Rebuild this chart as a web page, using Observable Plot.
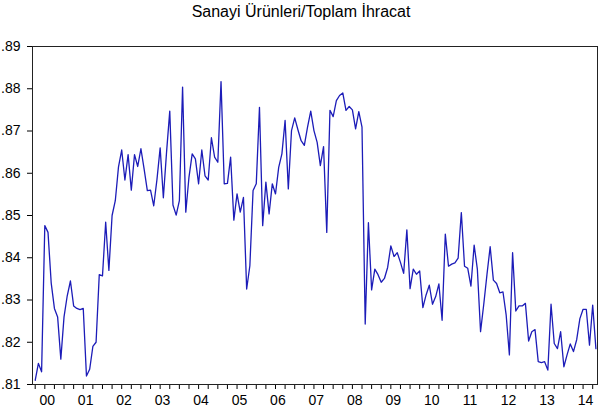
<!DOCTYPE html>
<html>
<head>
<meta charset="utf-8">
<script src="https://cdn.jsdelivr.net/npm/d3@7"></script>
<script src="https://cdn.jsdelivr.net/npm/@observablehq/plot@0.6"></script>
<style>
  html, body { margin: 0; padding: 0; background: #fff; }
</style>
</head>
<body>
<div id="chart"></div>
<script>
const title = "Sanayi Ürünleri/Toplam İhracat";
const startYear = 2000;
const yearLabels = ["00","01","02","03","04","05","06","07","08","09","10","11","12","13","14"];
const yTicks = [0.81, 0.82, 0.83, 0.84, 0.85, 0.86, 0.87, 0.88, 0.89];
// monthly values, Jan 2000 - Aug 2014
const values = [
  0.811, 0.815, 0.813, 0.8476, 0.846, 0.834, 0.828, 0.826, 0.816, 0.826, 0.831, 0.8345,
  0.8286, 0.828, 0.8277, 0.828, 0.812, 0.8136, 0.819, 0.820, 0.836, 0.8357, 0.8484, 0.837,
  0.850, 0.8535, 0.8615, 0.8655, 0.8584, 0.8644, 0.856, 0.8644, 0.8616, 0.8658, 0.861, 0.8559,
  0.856, 0.8523, 0.8585, 0.8660, 0.8542, 0.865, 0.8747, 0.8525, 0.8501, 0.8535, 0.8804, 0.8508,
  0.8591, 0.8646, 0.8634, 0.8575, 0.8655, 0.8594, 0.8584, 0.8684, 0.8638, 0.8626, 0.8817, 0.8575,
  0.8576, 0.8638, 0.8489, 0.8551, 0.8508, 0.8543, 0.8326, 0.8381, 0.8559, 0.8575, 0.8756, 0.8476,
  0.8579, 0.8504, 0.8575, 0.8551, 0.8614, 0.8646, 0.8725, 0.8563, 0.8701, 0.8731, 0.8703, 0.8677,
  0.8666, 0.8709, 0.8747, 0.8701, 0.8673, 0.8618, 0.8663, 0.8460, 0.8749, 0.8734, 0.8772, 0.8784,
  0.8790, 0.8749, 0.8758, 0.8750, 0.8705, 0.8746, 0.8709, 0.8243, 0.8483, 0.8324, 0.8373, 0.836,
  0.8342, 0.8351, 0.8377, 0.8428, 0.8403, 0.8412, 0.8389, 0.8363, 0.8466, 0.8327, 0.8373, 0.8361,
  0.8369, 0.8282, 0.8312, 0.8335, 0.8290, 0.8308, 0.8338, 0.8252, 0.8456, 0.8380, 0.8385, 0.8388,
  0.8399, 0.8507, 0.8380, 0.8375, 0.8333, 0.8430, 0.8373, 0.8225, 0.829, 0.836, 0.8426, 0.8347,
  0.8339, 0.8317, 0.8319, 0.8264, 0.8170, 0.8412, 0.8274, 0.8286, 0.8286, 0.8292, 0.8203, 0.8225,
  0.8230, 0.8154, 0.8152, 0.8154, 0.8134, 0.8290, 0.8197, 0.8185, 0.8225, 0.8142, 0.8170, 0.8196,
  0.8178, 0.8206, 0.8256, 0.8278, 0.8278, 0.8193, 0.8288, 0.8185
];

const data = values.map((v, i) => ({month: i, value: v}));
const quarterTicks = d3.range(0, values.length, 3);
const labelOffset = 3.75; // EViews-style label position within the year
const yearLabelPos = yearLabels.map((_, k) => k * 12 + labelOffset);

const chart = Plot.plot({
  width: 600,
  height: 413,
  marginLeft: 32,
  marginRight: 3,
  marginTop: 46,
  marginBottom: 29,
  style: {fontFamily: "'Liberation Sans', Arial, sans-serif", fontSize: "14px", color: "#000", background: "#fff", overflow: "visible"},
  x: {domain: [-0.84, 175.5]},
  y: {domain: [0.81, 0.89]},
  marks: [
    Plot.axisY({ticks: yTicks, tickSize: 5, tickPadding: 7, tickFormat: d => d.toFixed(2).slice(1), label: null, fontSize: 14}),
    Plot.axisX({ticks: quarterTicks, tickSize: 5, tickFormat: () => "", label: null}),
    Plot.axisX({ticks: yearLabelPos, tickSize: 0, tickPadding: 11, tickFormat: d => yearLabels[Math.round((d - labelOffset) / 12)], label: null, fontSize: 14}),
    Plot.lineY(data, {x: "month", y: "value", stroke: "#1c1cb8", strokeWidth: 1.3}),
    Plot.frame({stroke: "#222", strokeWidth: 1}),
    Plot.text([title], {frameAnchor: "top", lineAnchor: "bottom", dy: -30, dx: -14, fontSize: 16, fill: "#000"})
  ]
});
document.getElementById("chart").appendChild(chart);
</script>
</body>
</html>
